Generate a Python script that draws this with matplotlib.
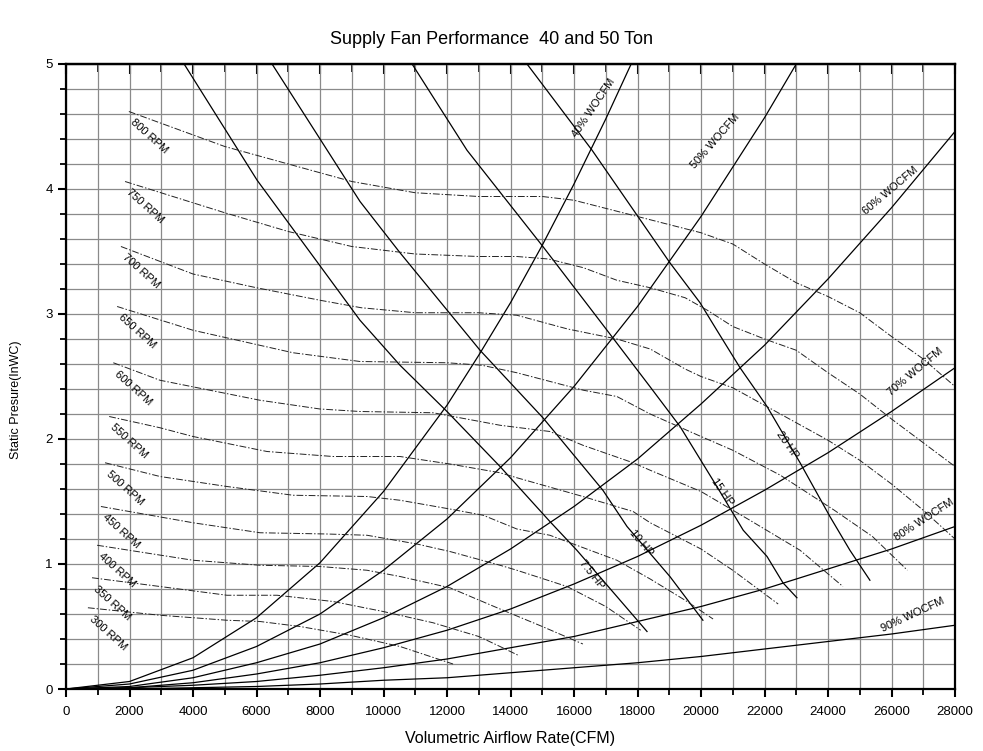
import matplotlib
matplotlib.use("Agg")
import matplotlib.pyplot as plt
from matplotlib.ticker import MultipleLocator

plt.rcParams['font.family'] = ['Liberation Sans', 'DejaVu Sans']

title = "Supply Fan Performance  40 and 50 Ton"
xlabel = "Volumetric Airflow Rate(CFM)"
ylabel = "Static Presure(InWC)"

# ---- system curves (% WOCFM), CFM vs static pressure ----
wo_x = [0, 2000, 4000, 6000, 8000, 10000, 12000, 14000, 16000, 18000, 20000, 22000, 24000, 26000, 28000]
wo40_x = [0, 2000, 4000, 6000, 8000, 10000, 12000, 13000, 14000, 15000, 16000, 17000, 17800]
wo40_y = [0, 0.06, 0.25, 0.57, 1.01, 1.58, 2.27, 2.67, 3.09, 3.55, 4.04, 4.56, 5.0]
wo50_x = [0, 2000, 4000, 6000, 8000, 10000, 12000, 14000, 16000, 18000, 20000, 22000, 23000]
wo50_y = [0, 0.04, 0.15, 0.34, 0.60, 0.95, 1.36, 1.85, 2.42, 3.06, 3.78, 4.57, 5.0]
wo60_y = [0, 0.02, 0.09, 0.21, 0.36, 0.57, 0.82, 1.12, 1.46, 1.84, 2.28, 2.75, 3.28, 3.85, 4.46]
wo70_y = [0, 0.01, 0.05, 0.12, 0.21, 0.33, 0.47, 0.64, 0.84, 1.06, 1.31, 1.59, 1.89, 2.22, 2.57]
wo80_y = [0, 0.01, 0.03, 0.06, 0.11, 0.17, 0.24, 0.33, 0.42, 0.54, 0.66, 0.80, 0.96, 1.12, 1.30]
wo90_y = [0, 0.00, 0.01, 0.02, 0.04, 0.07, 0.09, 0.13, 0.17, 0.21, 0.26, 0.32, 0.38, 0.44, 0.51]
wo_labels = ["40% WOCFM", "50% WOCFM", "60% WOCFM", "70% WOCFM", "80% WOCFM", "90% WOCFM"]

# ---- fan speed curves (RPM) ----
rpm_labels = ["800 RPM", "750 RPM", "700 RPM", "650 RPM", "600 RPM", "550 RPM",
              "500 RPM", "450 RPM", "400 RPM", "350 RPM", "300 RPM"]
rpm800_x = [1980, 5000, 7000, 9000, 11000, 13000, 15000, 16000, 18000, 20000, 21000, 22000, 23000, 24000, 25000, 26000, 27000, 28000]
rpm800_y = [4.62, 4.34, 4.20, 4.06, 3.97, 3.94, 3.94, 3.91, 3.78, 3.65, 3.56, 3.40, 3.25, 3.14, 3.01, 2.82, 2.64, 2.42]
rpm750_x = [1860, 5000, 7000, 9000, 11000, 13000, 14200, 15200, 16300, 17350, 18400, 19500, 20200, 21000, 22000, 23000, 24000, 25000, 26000, 27000, 28000]
rpm750_y = [4.06, 3.81, 3.66, 3.54, 3.48, 3.46, 3.46, 3.44, 3.37, 3.27, 3.21, 3.13, 3.03, 2.90, 2.80, 2.71, 2.53, 2.36, 2.16, 1.97, 1.78]
rpm700_x = [1730, 4000, 6000, 8000, 9300, 11000, 13000, 14200, 15800, 17350, 18400, 19500, 20000, 21000, 22000, 23000, 24000, 25000, 26000, 27000, 28000]
rpm700_y = [3.54, 3.32, 3.21, 3.11, 3.05, 3.01, 3.01, 2.99, 2.88, 2.80, 2.72, 2.56, 2.50, 2.41, 2.27, 2.13, 1.99, 1.83, 1.64, 1.43, 1.20]
rpm650_x = [1610, 4000, 7150, 9260, 12000, 13100, 14200, 16300, 17350, 18400, 20000, 21000, 22500, 24200, 25400, 26500]
rpm650_y = [3.06, 2.87, 2.69, 2.62, 2.61, 2.59, 2.53, 2.39, 2.34, 2.20, 2.02, 1.91, 1.71, 1.43, 1.22, 0.95]
rpm600_x = [1490, 2960, 6110, 8000, 9260, 11560, 13670, 15240, 16280, 17860, 18400, 20000, 21540, 23120, 24470]
rpm600_y = [2.61, 2.47, 2.31, 2.24, 2.22, 2.21, 2.11, 2.06, 1.95, 1.81, 1.75, 1.58, 1.35, 1.11, 0.82]
rpm550_x = [1360, 2960, 4000, 6330, 8410, 10520, 12090, 13670, 14200, 16280, 17860, 18400, 20000, 21000, 22430]
rpm550_y = [2.18, 2.09, 2.02, 1.90, 1.86, 1.86, 1.80, 1.73, 1.69, 1.54, 1.42, 1.33, 1.12, 0.95, 0.68]
rpm500_x = [1230, 2960, 5070, 7150, 9480, 10520, 12090, 13140, 14200, 15240, 17350, 18400, 19500, 20380]
rpm500_y = [1.81, 1.70, 1.62, 1.55, 1.54, 1.51, 1.44, 1.39, 1.28, 1.23, 1.03, 0.88, 0.71, 0.56]
rpm450_x = [1100, 4000, 6110, 8220, 9480, 11050, 12090, 13670, 14200, 15780, 17000, 18100]
rpm450_y = [1.46, 1.33, 1.25, 1.24, 1.23, 1.16, 1.10, 0.99, 0.95, 0.82, 0.66, 0.47]
rpm400_x = [980, 4000, 6110, 8000, 9480, 10520, 12090, 13670, 15000, 16280]
rpm400_y = [1.15, 1.03, 0.99, 0.98, 0.95, 0.90, 0.81, 0.64, 0.50, 0.36]
rpm350_x = [820, 2960, 5070, 6650, 8410, 9990, 11560, 13000, 13670, 14240]
rpm350_y = [0.89, 0.82, 0.75, 0.75, 0.70, 0.62, 0.53, 0.42, 0.34, 0.27]
rpm300_x = [690, 2960, 5070, 6110, 7370, 8950, 10520, 12190]
rpm300_y = [0.65, 0.59, 0.55, 0.54, 0.50, 0.43, 0.34, 0.20]

# ---- motor power curves (HP) ----
hp_labels = ["7.5 HP", "10 HP", "15 HP", "20 HP"]
hp75_x = [3720, 6020, 9260, 10520, 12000, 13670, 15240, 16090, 17350, 18300]
hp75_y = [5.0, 4.07, 2.95, 2.59, 2.22, 1.78, 1.34, 1.11, 0.74, 0.46]
hp10_x = [6490, 9260, 10520, 13040, 15020, 16910, 17670, 19020, 20060]
hp10_y = [5.0, 3.90, 3.49, 2.71, 2.17, 1.59, 1.30, 0.90, 0.55]
hp15_x = [10900, 12630, 15020, 17040, 18390, 19340, 20500, 21330, 22080, 22580, 23020]
hp15_y = [5.0, 4.31, 3.54, 2.87, 2.42, 2.10, 1.62, 1.27, 1.06, 0.85, 0.73]
hp20_x = [14520, 16570, 19020, 19970, 20500, 21230, 22080, 23120, 24060, 24690, 25320]
hp20_y = [5.0, 4.31, 3.41, 3.09, 2.87, 2.57, 2.26, 1.81, 1.38, 1.11, 0.87]

xticks = list(range(0, 28001, 2000))
yticks = [0, 1, 2, 3, 4, 5]

fig = plt.figure(figsize=(9.83, 7.51), dpi=100)
ax = fig.add_axes([66/983, 62/751, 889/983, 625/751])
ax.set_xlim(0, 28000)
ax.set_ylim(0, 5)

ax.xaxis.set_minor_locator(MultipleLocator(1000))
ax.yaxis.set_minor_locator(MultipleLocator(0.2))
ax.set_xticks(xticks)
ax.set_yticks(yticks)
ax.grid(True, which='both', color='#8a8a8a', lw=0.9, zorder=0)
ax.set_axisbelow(True)

for sp in ax.spines.values():
    sp.set_linewidth(1.6)
ax.tick_params(axis='both', which='major', direction='out', length=6, width=1.5, labelsize=9.5)
ax.tick_params(axis='x', which='major', pad=6)
ax.tick_params(axis='both', which='minor', direction='out', length=4, width=1.3)
top = ax.secondary_xaxis('top')
top.xaxis.set_major_locator(MultipleLocator(2000))
top.xaxis.set_minor_locator(MultipleLocator(1000))
top.tick_params(which='major', direction='in', length=7, width=1.5, labeltop=False)
top.tick_params(which='minor', direction='in', length=6, width=1.2)
top.spines['top'].set_linewidth(1.6)

lc = 'black'
lw = 0.9
ax.plot(wo40_x, wo40_y, color=lc, lw=lw)
ax.plot(wo50_x, wo50_y, color=lc, lw=lw)
for ys in (wo60_y, wo70_y, wo80_y, wo90_y):
    ax.plot(wo_x, ys, color=lc, lw=lw)

for xs, ys in ((hp75_x, hp75_y), (hp10_x, hp10_y), (hp15_x, hp15_y), (hp20_x, hp20_y)):
    ax.plot(xs, ys, color=lc, lw=lw)

rpm_series = [(rpm800_x, rpm800_y), (rpm750_x, rpm750_y), (rpm700_x, rpm700_y),
              (rpm650_x, rpm650_y), (rpm600_x, rpm600_y), (rpm550_x, rpm550_y),
              (rpm500_x, rpm500_y), (rpm450_x, rpm450_y), (rpm400_x, rpm400_y),
              (rpm350_x, rpm350_y), (rpm300_x, rpm300_y)]
for (xs, ys), lab in zip(rpm_series, rpm_labels):
    ax.plot(xs, ys, color='#222222', lw=0.7, dashes=(7, 2, 1.5, 2))
    ax.annotate(lab, xy=(xs[0], ys[0]), xytext=(20, -25), textcoords='offset pixels',
                rotation=-42, rotation_mode='anchor', ha='center', va='center', fontsize=8)

wo_pos = [(16630, 4.65, 56), (20440, 4.38, 49), (25950, 3.99, 40),
          (26740, 2.54, 40), (27020, 1.35, 33), (26680, 0.59, 25)]
for (x, y, r), lab in zip(wo_pos, wo_labels):
    ax.text(x, y, lab, rotation=r, rotation_mode='anchor', ha='center', va='center', fontsize=8)

hp_pos = [(16570, 0.92, -52), (18110, 1.17, -50), (20660, 1.58, -55), (22710, 1.95, -55)]
for (x, y, r), lab in zip(hp_pos, hp_labels):
    ax.text(x, y, lab, rotation=r, rotation_mode='anchor', ha='center', va='center', fontsize=8)

ax.set_xlabel(xlabel, fontsize=11.5)
ax.xaxis.set_label_coords(0.5, -(731 - 689) / 625)
ax.set_ylabel(ylabel, fontsize=9)
ax.yaxis.set_label_coords(-(66 - 22) / 889, (689 - 400) / 625)
fig.text(0.5, 1 - 40/751, title, ha='center', va='center', fontsize=13)

fig.savefig("out.png", dpi=100)
